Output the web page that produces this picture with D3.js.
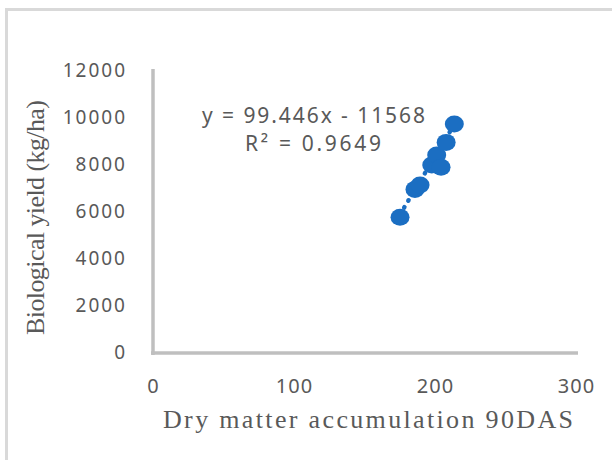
<!DOCTYPE html>
<html>
<head>
<meta charset="utf-8">
<script src="https://d3js.org/d3.v7.min.js"></script>
<style>
  body { margin: 0; background: #fff; }
</style>
</head>
<body>
<script>
// values
var dryMatter = [175.2, 185.8, 189.4, 197.7, 201.2, 204.3, 207.9, 213.7]
var bioYield  = [5730, 6920, 7110, 7960, 8380, 7860, 8920, 9700]
var xTicks = [0, 100, 200, 300]
var yTicks = [0, 2000, 4000, 6000, 8000, 10000, 12000]
var slope = 99.446, intercept = -11568
var eqLabel = "y = 99.446x - 11568"
var r2Label = "R\u00b2 = 0.9649"

var width = 612, height = 460

var svg = d3.select("body").append("svg")
  .attr("width", width)
  .attr("height", height)

// outer chart border (only top and left show)
svg.append("rect")
  .attr("x", 6.5).attr("y", 9.5)
  .attr("width", 640).attr("height", 480)
  .attr("fill", "none")
  .attr("stroke", "#d9d9d9")
  .attr("stroke-width", 3)

var x = d3.scaleLinear().domain([0, 300]).range([153, 576])
var y = d3.scaleLinear().domain([0, 12000]).range([352, 70])

// axis lines
var gx = svg.append("g").attr("transform", "translate(0,353)")
  .call(d3.axisBottom(x).tickValues(xTicks).tickSize(0).tickPadding(26).tickFormat(d3.format("d")))
gx.select(".domain").attr("stroke", "#bfbfbf").attr("stroke-width", 3.5)
  .attr("d", "M151,0H578")
gx.selectAll("text")
  .attr("font-family", "'Noto Sans', sans-serif")
  .attr("font-size", 20)
  .attr("letter-spacing", 1)
  .attr("fill", "#595959")

var gy = svg.append("g").attr("transform", "translate(153,0)")
  .call(d3.axisLeft(y).tickValues(yTicks).tickSize(0).tickPadding(26).tickFormat(d3.format("d")))
gy.select(".domain").attr("stroke", "#bfbfbf").attr("stroke-width", 3.5)
  .attr("d", "M0,69V355")
gy.selectAll("text")
  .attr("font-family", "'Noto Sans', sans-serif")
  .attr("font-size", 19)
  .attr("letter-spacing", 2)
  .attr("fill", "#595959")

// trendline (dotted)
var xMin = d3.min(dryMatter), xMax = d3.max(dryMatter)
svg.append("line")
  .attr("x1", x(xMin)).attr("y1", y(slope * xMin + intercept))
  .attr("x2", x(xMax)).attr("y2", y(slope * xMax + intercept))
  .attr("stroke", "#1b6ec2")
  .attr("stroke-width", 4.5)
  .attr("stroke-linecap", "round")
  .attr("stroke-dasharray", "0.5,7.5")

// markers
svg.append("g").selectAll("ellipse")
  .data(dryMatter)
  .enter().append("ellipse")
  .attr("cx", function(d) { return x(d) })
  .attr("cy", function(d, i) { return y(bioYield[i]) })
  .attr("rx", 9.5)
  .attr("ry", 8.5)
  .attr("fill", "#1b6ec2")

// equation labels
svg.append("text")
  .attr("x", 202).attr("y", 123)
  .attr("textLength", 223).attr("lengthAdjust", "spacing")
  .attr("font-family", "'Noto Sans', sans-serif")
  .attr("font-size", 21)
  .attr("fill", "#595959")
  .text(eqLabel)
svg.append("text")
  .attr("x", 245).attr("y", 151)
  .attr("textLength", 136).attr("lengthAdjust", "spacing")
  .attr("font-family", "'Noto Sans', sans-serif")
  .attr("font-size", 21)
  .attr("fill", "#595959")
  .text(r2Label)

// axis titles
svg.append("text")
  .attr("x", 163).attr("y", 428)
  .attr("textLength", 410).attr("lengthAdjust", "spacing")
  .attr("font-family", "'Liberation Serif', serif")
  .attr("font-size", 26)
  .attr("fill", "#595959")
  .text("Dry matter accumulation 90DAS")

svg.append("text")
  .attr("transform", "translate(44,335) rotate(-90)")
  .attr("textLength", 235).attr("lengthAdjust", "spacing")
  .attr("font-family", "'Liberation Serif', serif")
  .attr("font-size", 26)
  .attr("fill", "#595959")
  .text("Biological yield (kg/ha)")
</script>
</body>
</html>
